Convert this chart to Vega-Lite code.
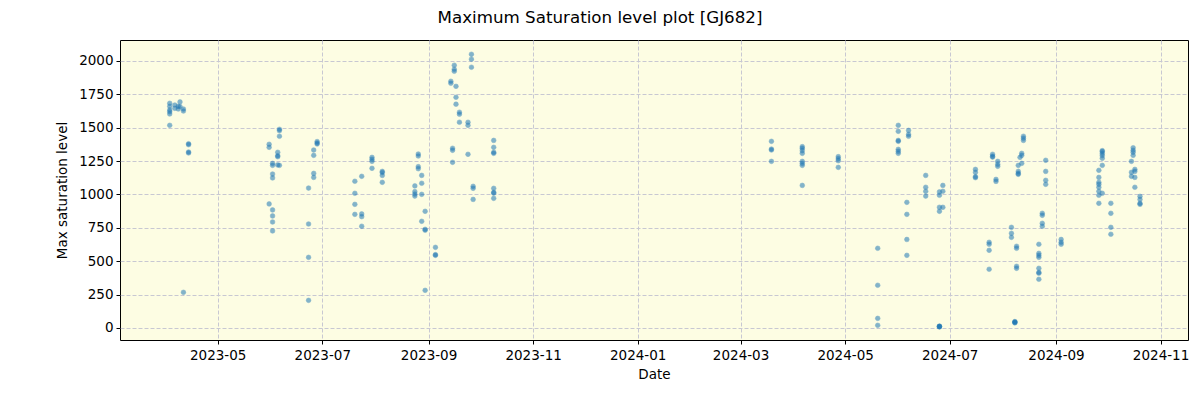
{
  "$schema": "https://vega.github.io/schema/vega-lite/v6.json",
  "width": 1068,
  "height": 300,
  "autosize": {"type": "none"},
  "padding": {"left": 120, "top": 40, "right": 12, "bottom": 60},
  "background": "white",
  "title": {"text": "Maximum Saturation level plot [GJ682]", "font": "DejaVu Sans", "fontSize": 16.7, "fontWeight": "normal", "anchor": "middle", "dx": -54, "offset": 13, "color": "black"},
  "config": {
    "view": {"fill": "#fdfde3", "stroke": "black", "strokeWidth": 1},
    "axis": {"labelFont": "DejaVu Sans", "titleFont": "DejaVu Sans", "labelFontSize": 13.5, "titleFontSize": 13.5, "titleFontWeight": "normal", "labelColor": "black", "titleColor": "black", "tickColor": "black", "tickSize": 4, "domain": false, "grid": true, "gridColor": "#c8c8d2", "gridDash": [4, 2], "gridWidth": 1}
  },
  "data": {"values": [
    {"d":"2023-04-03","v":1683},{"d":"2023-04-03","v":1660},{"d":"2023-04-03","v":1633},{"d":"2023-04-03","v":1620},{"d":"2023-04-03","v":1603},{"d":"2023-04-03","v":1518},
    {"d":"2023-04-06","v":1670},{"d":"2023-04-06","v":1645},
    {"d":"2023-04-08","v":1640},{"d":"2023-04-08","v":1660},
    {"d":"2023-04-09","v":1693},{"d":"2023-04-09","v":1658},
    {"d":"2023-04-11","v":1640},{"d":"2023-04-11","v":1625},{"d":"2023-04-11","v":267},
    {"d":"2023-04-14","v":1380},{"d":"2023-04-14","v":1373},{"d":"2023-04-14","v":1318},{"d":"2023-04-14","v":1311},
    {"d":"2023-05-31","v":1376},{"d":"2023-05-31","v":1353},{"d":"2023-05-31","v":929},
    {"d":"2023-06-02","v":1233},{"d":"2023-06-02","v":1218},{"d":"2023-06-02","v":1153},{"d":"2023-06-02","v":1124},{"d":"2023-06-02","v":884},{"d":"2023-06-02","v":839},{"d":"2023-06-02","v":794},{"d":"2023-06-02","v":727},
    {"d":"2023-06-05","v":1316},{"d":"2023-06-05","v":1290},{"d":"2023-06-05","v":1283},{"d":"2023-06-05","v":1221},
    {"d":"2023-06-06","v":1488},{"d":"2023-06-06","v":1478},{"d":"2023-06-06","v":1436},{"d":"2023-06-06","v":1218},
    {"d":"2023-06-23","v":1048},{"d":"2023-06-23","v":779},{"d":"2023-06-23","v":529},{"d":"2023-06-23","v":207},
    {"d":"2023-06-26","v":1333},{"d":"2023-06-26","v":1293},{"d":"2023-06-26","v":1158},{"d":"2023-06-26","v":1128},
    {"d":"2023-06-28","v":1396},{"d":"2023-06-28","v":1385},{"d":"2023-06-28","v":1378},
    {"d":"2023-07-20","v":1099},{"d":"2023-07-20","v":1009},{"d":"2023-07-20","v":926},{"d":"2023-07-20","v":851},
    {"d":"2023-07-24","v":1136},{"d":"2023-07-24","v":854},{"d":"2023-07-24","v":834},{"d":"2023-07-24","v":762},
    {"d":"2023-07-30","v":1278},{"d":"2023-07-30","v":1263},{"d":"2023-07-30","v":1248},{"d":"2023-07-30","v":1196},
    {"d":"2023-08-05","v":1173},{"d":"2023-08-05","v":1164},{"d":"2023-08-05","v":1143},{"d":"2023-08-05","v":1091},
    {"d":"2023-08-24","v":1064},{"d":"2023-08-24","v":1021},{"d":"2023-08-24","v":1003},{"d":"2023-08-24","v":988},
    {"d":"2023-08-26","v":1303},{"d":"2023-08-26","v":1288},{"d":"2023-08-26","v":1208},{"d":"2023-08-26","v":1193},
    {"d":"2023-08-28","v":1143},{"d":"2023-08-28","v":1084},{"d":"2023-08-28","v":1001},{"d":"2023-08-28","v":799},
    {"d":"2023-08-30","v":874},{"d":"2023-08-30","v":739},{"d":"2023-08-30","v":732},{"d":"2023-08-30","v":282},
    {"d":"2023-09-05","v":604},{"d":"2023-09-05","v":549},{"d":"2023-09-05","v":544},
    {"d":"2023-09-14","v":1848},{"d":"2023-09-14","v":1833},
    {"d":"2023-09-15","v":1346},{"d":"2023-09-15","v":1331},{"d":"2023-09-15","v":1241},
    {"d":"2023-09-16","v":1968},{"d":"2023-09-16","v":1938},{"d":"2023-09-16","v":1923},
    {"d":"2023-09-17","v":1810},{"d":"2023-09-17","v":1728},{"d":"2023-09-17","v":1676},
    {"d":"2023-09-19","v":1616},{"d":"2023-09-19","v":1601},{"d":"2023-09-19","v":1541},
    {"d":"2023-09-24","v":1541},{"d":"2023-09-24","v":1518},{"d":"2023-09-24","v":1301},
    {"d":"2023-09-26","v":2050},{"d":"2023-09-26","v":2013},{"d":"2023-09-26","v":1953},
    {"d":"2023-09-27","v":1061},{"d":"2023-09-27","v":1046},{"d":"2023-09-27","v":963},
    {"d":"2023-10-09","v":1405},{"d":"2023-10-09","v":1353},{"d":"2023-10-09","v":1316},{"d":"2023-10-09","v":1308},{"d":"2023-10-09","v":1046},{"d":"2023-10-09","v":1016},{"d":"2023-10-09","v":1010},{"d":"2023-10-09","v":971},
    {"d":"2024-03-19","v":1398},{"d":"2024-03-19","v":1340},{"d":"2024-03-19","v":1333},{"d":"2024-03-19","v":1248},
    {"d":"2024-04-06","v":1358},{"d":"2024-04-06","v":1346},{"d":"2024-04-06","v":1328},{"d":"2024-04-06","v":1308},{"d":"2024-04-06","v":1248},{"d":"2024-04-06","v":1233},{"d":"2024-04-06","v":1218},{"d":"2024-04-06","v":1068},
    {"d":"2024-04-27","v":1283},{"d":"2024-04-27","v":1268},{"d":"2024-04-27","v":1253},{"d":"2024-04-27","v":1203},
    {"d":"2024-05-20","v":597},{"d":"2024-05-20","v":320},{"d":"2024-05-20","v":72},{"d":"2024-05-20","v":20},
    {"d":"2024-06-01","v":1518},{"d":"2024-06-01","v":1473},{"d":"2024-06-01","v":1405},{"d":"2024-06-01","v":1398},{"d":"2024-06-01","v":1338},{"d":"2024-06-01","v":1323},{"d":"2024-06-01","v":1308},
    {"d":"2024-06-06","v":941},{"d":"2024-06-06","v":851},{"d":"2024-06-06","v":663},{"d":"2024-06-06","v":544},
    {"d":"2024-06-07","v":1480},{"d":"2024-06-07","v":1450},{"d":"2024-06-07","v":1436},
    {"d":"2024-06-17","v":1143},{"d":"2024-06-17","v":1054},{"d":"2024-06-17","v":1024},{"d":"2024-06-17","v":988},
    {"d":"2024-06-25","v":1019},{"d":"2024-06-25","v":994},{"d":"2024-06-25","v":904},{"d":"2024-06-25","v":874},{"d":"2024-06-25","v":14},{"d":"2024-06-25","v":12},{"d":"2024-06-25","v":10},{"d":"2024-06-25","v":8},
    {"d":"2024-06-27","v":1068},{"d":"2024-06-27","v":1024},{"d":"2024-06-27","v":904},
    {"d":"2024-07-16","v":1188},{"d":"2024-07-16","v":1166},{"d":"2024-07-16","v":1133},{"d":"2024-07-16","v":1126},
    {"d":"2024-07-24","v":642},{"d":"2024-07-24","v":627},{"d":"2024-07-24","v":582},{"d":"2024-07-24","v":440},
    {"d":"2024-07-26","v":1301},{"d":"2024-07-26","v":1286},{"d":"2024-07-26","v":1280},
    {"d":"2024-07-28","v":1113},{"d":"2024-07-28","v":1098},
    {"d":"2024-07-29","v":1248},{"d":"2024-07-29","v":1226},{"d":"2024-07-29","v":1211},
    {"d":"2024-08-06","v":754},{"d":"2024-08-06","v":709},{"d":"2024-08-06","v":679},
    {"d":"2024-08-08","v":48},{"d":"2024-08-08","v":45},{"d":"2024-08-08","v":42},{"d":"2024-08-08","v":38},
    {"d":"2024-08-09","v":612},{"d":"2024-08-09","v":597},{"d":"2024-08-09","v":462},{"d":"2024-08-09","v":447},
    {"d":"2024-08-10","v":1218},{"d":"2024-08-10","v":1173},{"d":"2024-08-10","v":1158},{"d":"2024-08-10","v":1151},
    {"d":"2024-08-11","v":1278},
    {"d":"2024-08-12","v":1308},{"d":"2024-08-12","v":1293},{"d":"2024-08-12","v":1233},
    {"d":"2024-08-13","v":1436},{"d":"2024-08-13","v":1421},{"d":"2024-08-13","v":1405},
    {"d":"2024-08-22","v":627},{"d":"2024-08-22","v":559},{"d":"2024-08-22","v":544},{"d":"2024-08-22","v":529},{"d":"2024-08-22","v":447},{"d":"2024-08-22","v":417},{"d":"2024-08-22","v":410},{"d":"2024-08-22","v":365},
    {"d":"2024-08-24","v":859},{"d":"2024-08-24","v":844},{"d":"2024-08-24","v":784},{"d":"2024-08-24","v":762},
    {"d":"2024-08-26","v":1256},{"d":"2024-08-26","v":1173},{"d":"2024-08-26","v":1106},{"d":"2024-08-26","v":1076},
    {"d":"2024-09-04","v":663},{"d":"2024-09-04","v":642},{"d":"2024-09-04","v":627},
    {"d":"2024-09-26","v":1181},{"d":"2024-09-26","v":1128},{"d":"2024-09-26","v":1091},{"d":"2024-09-26","v":1076},{"d":"2024-09-26","v":1054},{"d":"2024-09-26","v":1024},{"d":"2024-09-26","v":994},{"d":"2024-09-26","v":934},
    {"d":"2024-09-28","v":1328},{"d":"2024-09-28","v":1321},{"d":"2024-09-28","v":1306},{"d":"2024-09-28","v":1291},{"d":"2024-09-28","v":1271},{"d":"2024-09-28","v":1218},{"d":"2024-09-28","v":1009},
    {"d":"2024-10-03","v":934},{"d":"2024-10-03","v":859},{"d":"2024-10-03","v":754},{"d":"2024-10-03","v":702},
    {"d":"2024-10-15","v":1248},{"d":"2024-10-15","v":1166},{"d":"2024-10-15","v":1136},
    {"d":"2024-10-16","v":1350},{"d":"2024-10-16","v":1331},{"d":"2024-10-16","v":1316},{"d":"2024-10-16","v":1293},
    {"d":"2024-10-17","v":1188},{"d":"2024-10-17","v":1173},{"d":"2024-10-17","v":1128},{"d":"2024-10-17","v":1054},
    {"d":"2024-10-20","v":986},{"d":"2024-10-20","v":963},{"d":"2024-10-20","v":934},{"d":"2024-10-20","v":926}
  ]},
  "mark": {"type": "point", "shape": "circle", "filled": true, "size": 22, "color": "#1f77b4", "opacity": 0.55, "stroke": "#1f77b4", "strokeWidth": 0.8, "strokeOpacity": 0.7},
  "encoding": {
    "x": {"field": "d", "type": "temporal", "title": "Date",
      "scale": {"domain": [{"year": 2023, "month": 3, "date": 5}, {"year": 2024, "month": 11, "date": 17}], "nice": false},
      "axis": {"values": [{"year":2023,"month":5,"date":1},{"year":2023,"month":7,"date":1},{"year":2023,"month":9,"date":1},{"year":2023,"month":11,"date":1},{"year":2024,"month":1,"date":1},{"year":2024,"month":3,"date":1},{"year":2024,"month":5,"date":1},{"year":2024,"month":7,"date":1},{"year":2024,"month":9,"date":1},{"year":2024,"month":11,"date":1}], "format": "%Y-%m", "labelPadding": 4, "titlePadding": 6, "labelFlush": false}},
    "y": {"field": "v", "type": "quantitative", "title": "Max saturation level",
      "scale": {"domain": [-90, 2157], "nice": false, "zero": false},
      "axis": {"values": [0, 250, 500, 750, 1000, 1250, 1500, 1750, 2000], "format": "d", "labelPadding": 3, "titlePadding": 9}}
  }
}
